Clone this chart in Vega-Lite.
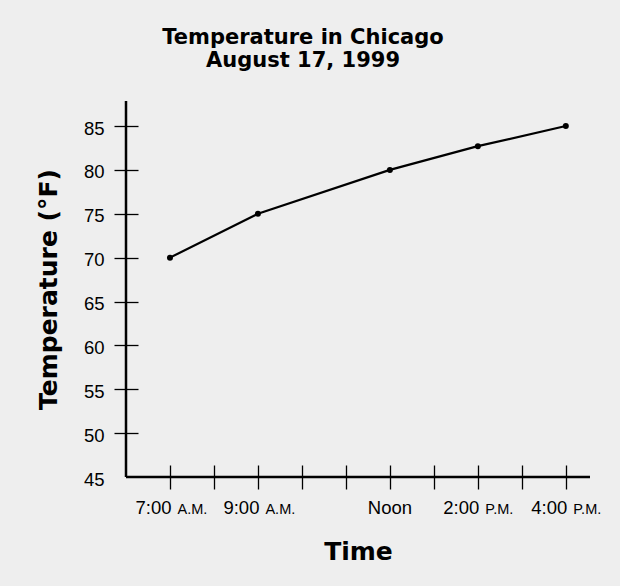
{
  "$schema": "https://vega.github.io/schema/vega-lite/v6.json",
  "width": 464,
  "height": 376,
  "autosize": {"type": "none"},
  "padding": {"left": 126, "top": 101, "right": 30, "bottom": 109},
  "background": "#eeeeee",
  "title": {
    "text": ["Temperature in Chicago", "August 17, 1999"],
    "font": "DejaVu Sans",
    "fontSize": 21,
    "fontWeight": "bold",
    "lineHeight": 23,
    "color": "black",
    "anchor": "middle",
    "dx": -55,
    "offset": 29
  },
  "datasets": {
    "temps": [
      {"time": 7, "temp": 70},
      {"time": 9, "temp": 75},
      {"time": 12, "temp": 80},
      {"time": 14, "temp": 82.7},
      {"time": 16, "temp": 85}
    ],
    "labels": [
      {"time": 7, "text": "7:00", "suffix": "A.M."},
      {"time": 9, "text": "9:00", "suffix": "A.M."},
      {"time": 12, "text": "Noon", "suffix": ""},
      {"time": 14, "text": "2:00", "suffix": "P.M."},
      {"time": 16, "text": "4:00", "suffix": "P.M."}
    ],
    "one": [{}]
  },
  "layer": [
    {
      "data": {"name": "temps"},
      "mark": {"type": "line", "color": "black", "strokeWidth": 2.2},
      "encoding": {
        "x": {
          "field": "time",
          "type": "quantitative",
          "scale": {"domain": [6, 16.55], "nice": false, "zero": false},
          "axis": {
            "values": [7, 8, 9, 10, 11, 12, 13, 14, 15, 16],
            "labels": false,
            "domain": false,
            "grid": false,
            "offset": -12,
            "tickSize": 24,
            "tickWidth": 1.3,
            "tickColor": "black",
            "title": "Time",
            "titleFont": "DejaVu Sans",
            "titleFontSize": 25,
            "titleFontWeight": "bold",
            "titleColor": "black",
            "titlePadding": 50
          }
        },
        "y": {
          "field": "temp",
          "type": "quantitative",
          "scale": {"domain": [45, 87.85], "nice": false, "zero": false},
          "axis": {
            "values": [45, 50, 55, 60, 65, 70, 75, 80, 85],
            "domain": false,
            "grid": false,
            "offset": -12,
            "tickSize": 24,
            "tickWidth": 1.3,
            "tickColor": {"condition": {"test": "datum.value == 45", "value": "transparent"}, "value": "black"},
            "labelFont": "Liberation Sans",
            "labelFontSize": 18.5,
            "labelColor": "black",
            "labelPadding": 10,
            "labelOffset": 2,
            "title": "Temperature (°F)",
            "titleFont": "DejaVu Sans",
            "titleFontSize": 25,
            "titleFontWeight": "bold",
            "titleColor": "black",
            "titlePadding": 22
          }
        }
      }
    },
    {
      "data": {"name": "temps"},
      "mark": {"type": "point", "filled": true, "color": "black", "size": 36, "opacity": 1},
      "encoding": {
        "x": {"field": "time", "type": "quantitative"},
        "y": {"field": "temp", "type": "quantitative"}
      }
    },
    {
      "data": {"name": "one"},
      "mark": {"type": "rule", "color": "black", "strokeWidth": 2.5},
      "encoding": {
        "x": {"datum": 6},
        "y": {"datum": 45},
        "y2": {"datum": 87.85}
      }
    },
    {
      "data": {"name": "one"},
      "mark": {"type": "rule", "color": "black", "strokeWidth": 2.5},
      "encoding": {
        "y": {"datum": 45},
        "x": {"datum": 6},
        "x2": {"datum": 16.55}
      }
    },
    {
      "data": {"name": "labels"},
      "transform": [{"filter": "datum.suffix != ''"}],
      "mark": {"type": "text", "align": "right", "baseline": "alphabetic", "dx": 1.5, "dy": 37, "font": "Liberation Sans", "fontSize": 18.5, "color": "black"},
      "encoding": {
        "x": {"field": "time", "type": "quantitative"},
        "y": {"datum": 45},
        "text": {"field": "text"}
      }
    },
    {
      "data": {"name": "labels"},
      "transform": [{"filter": "datum.suffix == ''"}],
      "mark": {"type": "text", "align": "center", "baseline": "alphabetic", "dx": 0, "dy": 37, "font": "Liberation Sans", "fontSize": 18.5, "color": "black"},
      "encoding": {
        "x": {"field": "time", "type": "quantitative"},
        "y": {"datum": 45},
        "text": {"field": "text"}
      }
    },
    {
      "data": {"name": "labels"},
      "transform": [{"filter": "datum.suffix != ''"}],
      "mark": {"type": "text", "align": "left", "baseline": "alphabetic", "dx": 7.5, "dy": 37, "font": "Liberation Sans", "fontSize": 14.5, "color": "black"},
      "encoding": {
        "x": {"field": "time", "type": "quantitative"},
        "y": {"datum": 45},
        "text": {"field": "suffix"}
      }
    }
  ],
  "config": {
    "view": {"stroke": null}
  }
}
